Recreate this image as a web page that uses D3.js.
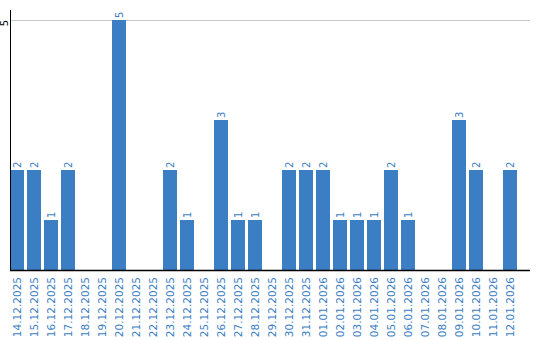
<!DOCTYPE html>
<html>
<head>
<meta charset="utf-8">
<script src="https://cdn.jsdelivr.net/npm/d3@7"></script>
<style>
  body { margin: 0; background: #fff; }
</style>
</head>
<body>
<svg id="chart" width="540" height="340" font-family="DejaVu Sans" font-size="10"></svg>
<script>
// dates along the bottom
var days = ["14.12.2025", "15.12.2025", "16.12.2025", "17.12.2025", "18.12.2025",
    "19.12.2025", "20.12.2025", "21.12.2025", "22.12.2025", "23.12.2025",
    "24.12.2025", "25.12.2025", "26.12.2025", "27.12.2025", "28.12.2025",
    "29.12.2025", "30.12.2025", "31.12.2025", "01.01.2026", "02.01.2026",
    "03.01.2026", "04.01.2026", "05.01.2026", "06.01.2026", "07.01.2026",
    "08.01.2026", "09.01.2026", "10.01.2026", "11.01.2026", "12.01.2026"];
var counts = [2, 2, 1, 2, 0, 0, 5, 0, 0, 2, 1, 0, 3, 1, 1, 0, 2, 2, 2, 1, 1, 1, 2, 1, 0, 0, 3, 2, 0, 2];
var yTicks = [5];

var blue = "#3b7ec3";
var plotLeft = 10, plotRight = 520, plotTop = 20, plotBottom = 270;

var svg = d3.select("#chart");

var x = d3.scaleBand()
    .domain(days)
    .range([plotLeft, plotRight])
    .paddingInner(3 / 17)
    .paddingOuter(3 / 34)
    .align(0);

var y = d3.scaleLinear()
    .domain([0, 5])
    .range([plotBottom, plotTop]);

var bars = days.map(function(d, i) { return {day: d, n: counts[i]}; });

// grid line
svg.selectAll(".grid")
    .data(yTicks)
    .enter().append("line")
    .attr("x1", plotLeft).attr("x2", 530)
    .attr("y1", function(d) { return y(d) + 0.5; })
    .attr("y2", function(d) { return y(d) + 0.5; })
    .attr("stroke", "#c8c8c8");

// bars
svg.selectAll(".bar")
    .data(bars)
    .enter().append("rect")
    .attr("x", function(d) { return x(d.day); })
    .attr("y", function(d) { return y(d.n); })
    .attr("width", x.bandwidth())
    .attr("height", function(d) { return plotBottom - y(d.n); })
    .attr("fill", blue);

// value labels
svg.selectAll(".val")
    .data(bars.filter(function(d) { return d.n > 0; }))
    .enter().append("text")
    .attr("transform", function(d) {
        var cx = x(d.day) + x.bandwidth() / 2;
        return "translate(" + cx + "," + (y(d.n) - 2) + ") rotate(-90)";
    })
    .attr("dy", "0.35em")
    .attr("fill", blue)
    .text(function(d) { return d.n; });

// axes lines
svg.append("line")
    .attr("x1", plotLeft + 0.5).attr("x2", plotLeft + 0.5)
    .attr("y1", 10).attr("y2", plotBottom)
    .attr("stroke", "#000");
svg.append("line")
    .attr("x1", plotLeft).attr("x2", 530)
    .attr("y1", plotBottom + 0.5).attr("y2", plotBottom + 0.5)
    .attr("stroke", "#000").attr("stroke-width", 1.5);

// y tick labels
svg.selectAll(".ytick")
    .data(yTicks)
    .enter().append("text")
    .attr("transform", function(d) { return "translate(4," + (y(d) + 3) + ") rotate(-90)"; })
    .attr("text-anchor", "middle")
    .attr("dy", "0.35em")
    .attr("fill", "#000")
    .text(function(d) { return d; });

// date labels
svg.selectAll(".xlab")
    .data(days)
    .enter().append("text")
    .attr("transform", function(d) {
        return "translate(" + (x(d) + x.bandwidth() / 2) + "," + (plotBottom + 7) + ") rotate(-90)";
    })
    .attr("text-anchor", "end")
    .attr("dy", "0.35em")
    .attr("font-size", 10.5)
    .attr("fill", blue)
    .text(function(d) { return d; });
</script>
</body>
</html>
